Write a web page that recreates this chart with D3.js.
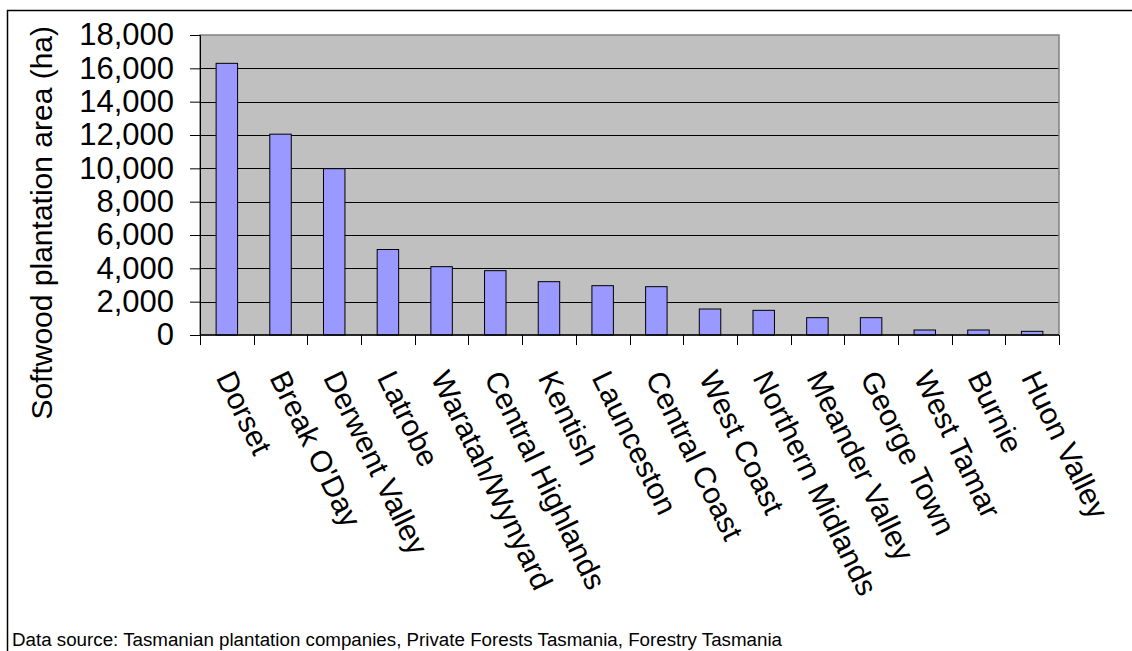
<!DOCTYPE html>
<html>
<head>
<meta charset="utf-8">
<script src="https://cdn.jsdelivr.net/npm/d3@7"></script>
<style>
  html, body { margin: 0; padding: 0; background: #fff; }
  svg { display: block; font-family: "Liberation Sans", Arial, sans-serif; }
</style>
</head>
<body>
<svg id="chart" width="1132" height="651"></svg>
<script>
// Softwood plantation area by municipality (ha)
const municipalities = [
  "Dorset", "Break O'Day", "Derwent Valley", "Latrobe", "Waratah/Wynyard",
  "Central Highlands", "Kentish", "Launceston", "Central Coast", "West Coast",
  "Northern Midlands", "Meander Valley", "George Town", "West Tamar", "Burnie",
  "Huon Valley"
];
const areaHa = [
  16300, 12050, 9980, 5130, 4100,
  3860, 3200, 2960, 2900, 1560,
  1480, 1040, 1040, 300, 300,
  220
];
const yTicks = [0, 2000, 4000, 6000, 8000, 10000, 12000, 14000, 16000, 18000];
const yTitle = "Softwood plantation area (ha)";
const sourceNote = "Data source: Tasmanian plantation companies, Private Forests Tasmania, Forestry Tasmania";

const svg = d3.select("#chart");
const plot = { left: 200, right: 1059, top: 35, bottom: 335 };

// outer chart frame (top and left edges visible)
svg.append("path")
  .attr("d", "M7.5,651 L7.5,10.5 L1132,10.5")
  .attr("fill", "none").attr("stroke", "#000").attr("stroke-width", 1.5);

const x = d3.scaleBand().domain(municipalities)
  .range([plot.left, plot.right]).paddingInner(0.6).paddingOuter(0.3);
const xTick = d3.scaleBand().domain(municipalities).range([plot.left, plot.right]);
const y = d3.scaleLinear().domain([0, 18000]).range([plot.bottom, plot.top]);

// plot background
svg.append("rect")
  .attr("x", plot.left).attr("y", plot.top)
  .attr("width", plot.right - plot.left).attr("height", plot.bottom - plot.top)
  .attr("fill", "#c0c0c0");

// horizontal gridlines
svg.append("g").selectAll("line").data(yTicks.filter(d => d > 0 && d < 18000)).join("line")
  .attr("x1", plot.left).attr("x2", plot.right)
  .attr("y1", d => Math.round(y(d)) + 0.5).attr("y2", d => Math.round(y(d)) + 0.5)
  .attr("stroke", "#000").attr("stroke-width", 1);

// plot border
svg.append("rect")
  .attr("x", plot.left).attr("y", plot.top)
  .attr("width", plot.right - plot.left).attr("height", plot.bottom - plot.top)
  .attr("fill", "none").attr("stroke", "#808080").attr("stroke-width", 1.5);

// bars
svg.append("g").selectAll("rect").data(municipalities).join("rect")
  .attr("x", d => x(d))
  .attr("y", (d, i) => y(areaHa[i]))
  .attr("width", x.bandwidth())
  .attr("height", (d, i) => y(0) - y(areaHa[i]))
  .attr("fill", "#9999ff").attr("stroke", "#000").attr("stroke-width", 1);

// y axis
const yAxis = svg.append("g").attr("transform", `translate(${plot.left},0)`)
  .call(d3.axisLeft(y).tickValues(yTicks).tickSize(10).tickPadding(16)
    .tickFormat(d3.format(",")));
yAxis.select(".domain").attr("stroke", "#000");
yAxis.selectAll(".tick line").attr("stroke", "#000");
yAxis.selectAll("text").attr("font-size", 31).attr("fill", "#000")
  .attr("font-family", "Liberation Sans, Arial, sans-serif");

// x axis line and ticks at category boundaries
svg.append("line")
  .attr("x1", plot.left).attr("x2", plot.right)
  .attr("y1", plot.bottom).attr("y2", plot.bottom)
  .attr("stroke", "#000").attr("stroke-width", 1.5);
const boundaries = municipalities.map(d => xTick(d)).concat([plot.right]);
svg.append("g").selectAll("line").data(boundaries).join("line")
  .attr("x1", d => Math.round(d) + 0.5).attr("x2", d => Math.round(d) + 0.5)
  .attr("y1", plot.bottom).attr("y2", plot.bottom + 10)
  .attr("stroke", "#000").attr("stroke-width", 1);

// rotated category labels
svg.append("g").selectAll("text").data(municipalities).join("text")
  .attr("transform", d => `translate(${xTick(d) + xTick.bandwidth() / 2 - 2},${plot.bottom + 38}) rotate(64)`)
  .attr("font-size", 30)
  .attr("text-anchor", "start")
  .attr("dominant-baseline", "central")
  .attr("fill", "#000")
  .text(d => d);

// y axis title, reading upward, ending near the top of the plot
svg.append("text")
  .attr("transform", "translate(41,26) rotate(-90)")
  .attr("text-anchor", "end")
  .attr("dominant-baseline", "central")
  .attr("font-size", 30)
  .attr("fill", "#000")
  .text(yTitle);

// source note
svg.append("text")
  .attr("x", 12).attr("y", 646)
  .attr("font-size", 18)
  .attr("fill", "#000")
  .attr("textLength", 770).attr("lengthAdjust", "spacingAndGlyphs")
  .text(sourceNote);
</script>
</body>
</html>
